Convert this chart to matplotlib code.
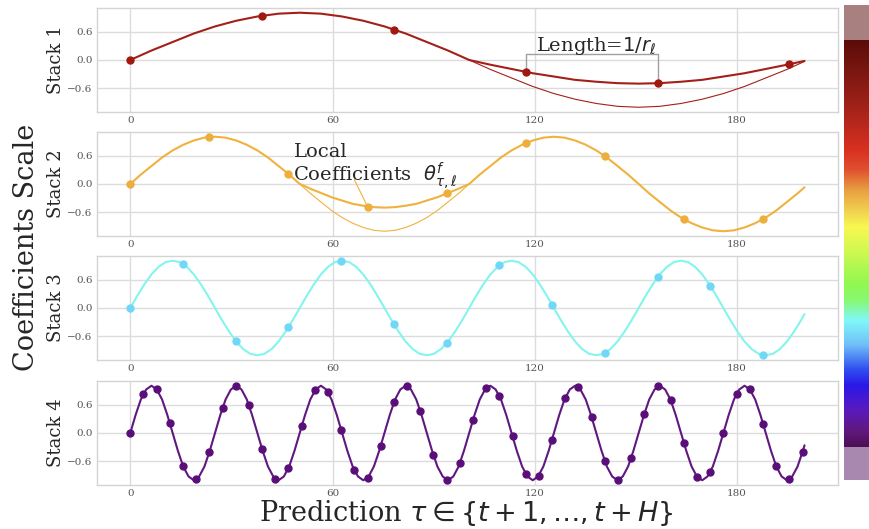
import numpy as np
import matplotlib
matplotlib.use('Agg')
import matplotlib.pyplot as plt
from matplotlib.colors import LinearSegmentedColormap
from matplotlib.patches import Rectangle

# curve read-offs at even spacing, last value is the reading at tau=200
stack_names = ['Stack 1', 'Stack 2', 'Stack 3', 'Stack 4']
line_steps = [2 * np.pi, np.pi, 2 * np.pi / 3, np.pi / 2]

s1_line = [0, .2, .38, .56, .71, .83, .92, .98, 1, .98, .92, .83, .71, .56, .38, .2,
           0, -.1, -.19, -.28, -.35, -.42, -.46, -.49, -.5, -.49, -.46, -.42, -.35, -.28, -.19, -.1,
           -.02]
s2_line = [0, .2, .38, .56, .71, .83, .92, .98, 1, .98, .92, .83, .71, .56, .38, .2,
           0, -.1, -.19, -.28, -.35, -.42, -.46, -.49, -.5, -.49, -.46, -.42, -.35, -.28, -.19, -.1,
           0, .2, .38, .56, .71, .83, .92, .98, 1, .98, .92, .83, .71, .56, .38, .2,
           0, -.2, -.38, -.56, -.71, -.83, -.92, -.98, -1, -.98, -.92, -.83, -.71, -.56, -.38, -.2,
           -.07]
s3_line = [0, .26, .5, .71, .87, .97, 1, .97, .87, .71, .5, .26,
           0, -.26, -.5, -.71, -.87, -.97, -1, -.97, -.87, -.71, -.5, -.26,
           0, .26, .5, .71, .87, .97, 1, .97, .87, .71, .5, .26,
           0, -.26, -.5, -.71, -.87, -.97, -1, -.97, -.87, -.71, -.5, -.26,
           0, .26, .5, .71, .87, .97, 1, .97, .87, .71, .5, .26,
           0, -.26, -.5, -.71, -.87, -.97, -1, -.97, -.87, -.71, -.5, -.26,
           0, .26, .5, .71, .87, .97, 1, .97, .87, .71, .5, .26,
           0, -.26, -.5, -.71, -.87, -.97, -1, -.97, -.87, -.71, -.5, -.26,
           -.13]
s4_line = [0, .38, .71, .92, 1, .92, .71, .38, 0, -.38, -.71, -.92, -1, -.92, -.71, -.38,
           0, .38, .71, .92, 1, .92, .71, .38, 0, -.38, -.71, -.92, -1, -.92, -.71, -.38,
           0, .38, .71, .92, 1, .92, .71, .38, 0, -.38, -.71, -.92, -1, -.92, -.71, -.38,
           0, .38, .71, .92, 1, .92, .71, .38, 0, -.38, -.71, -.92, -1, -.92, -.71, -.38,
           0, .38, .71, .92, 1, .92, .71, .38, 0, -.38, -.71, -.92, -1, -.92, -.71, -.38,
           0, .38, .71, .92, 1, .92, .71, .38, 0, -.38, -.71, -.92, -1, -.92, -.71, -.38,
           0, .38, .71, .92, 1, .92, .71, .38, 0, -.38, -.71, -.92, -1, -.92, -.71, -.38,
           0, .38, .71, .92, 1, .92, .71, .38, 0, -.38, -.71, -.92, -1, -.92, -.71, -.38,
           -.26]

# undamped curve where the thick one was shrunk
thin_start = 16
s1_thin = [0, -.2, -.38, -.56, -.71, -.83, -.92, -.98, -1, -.98, -.92, -.83, -.71, -.56, -.38, -.2,
           -.03]
s2_thin = [0, -.2, -.38, -.56, -.71, -.83, -.92, -.98, -1, -.98, -.92, -.83, -.71, -.56, -.38, -.2,
           0]

# coefficient dots, spaced 3.91 apart on stack 4
dot_step = 3.91
dot_stride = [10, 6, 4, 1]
s1_dots = [0, .94, .64, -.25, -.49, -.09]
s2_dots = [0, .99, .21, -.48, -.2, .87, .59, -.74, -.74]
s3_dots = [0, .93, -.7, -.41, 1, -.34, -.74, .9, .07, -.95, .65, .47, -.99]
s4_dots = [0, .83, .93, .21, -.7, -.98, -.41, .53, 1, .59, -.34, -.97, -.74,
           .14, .9, .87, .07, -.79, -.95, -.27, .65, .99, .47, -.47, -1, -.64,
           .28, .95, .79, -.07, -.87, -.9, -.14, .75, .97, .34, -.59, -1, -.53,
           .41, .99, .69, -.21, -.93, -.83, .01, .83, .93, .2, -.7, -.98, -.4]

line_colors = ['#a3201a', '#f0b23e', '#84f4ee', '#601880']
dot_colors = ['#a0180f', '#eeae3c', '#70d8f6', '#5a0f78']

cmap_stops = [0.0, 0.04, 0.09, 0.15, 0.19, 0.25, 0.31, 0.36, 0.40,
              0.48, 0.54, 0.58, 0.63, 0.68, 0.73, 0.85, 1.0]
cmap_colors = ['#4f0f55', '#601880', '#5a1ac0', '#2a18e8', '#3050f0', '#70c0f8',
               '#80f8f8', '#88f870', '#90f850', '#d0f850', '#f8f850', '#f0d050',
               '#e8a040', '#e05030', '#d83020', '#9a2018', '#5a0c08']

plt.style.use('seaborn-v0_8-whitegrid')
plt.rcParams['font.family'] = 'serif'
plt.rcParams['mathtext.fontset'] = 'dejavusans'

fig = plt.figure(figsize=(8.7, 5.29), dpi=100)

lines = [s1_line, s2_line, s3_line, s4_line]
thins = [s1_thin, s2_thin, None, None]
dots = [s1_dots, s2_dots, s3_dots, s4_dots]
bottoms = [0.7883, 0.5539, 0.3195, 0.0832]

axes = []
for i in range(4):
    ax = fig.add_axes([0.111, bottoms[i], 0.8525, 0.1966])
    step = line_steps[i]
    vals = lines[i]
    x = np.minimum(np.arange(len(vals)) * step, 200)
    ax.plot(x, vals, color=line_colors[i], lw=1.5, zorder=3)
    if thins[i] is not None:
        xt = np.minimum(np.arange(thin_start, thin_start + len(thins[i])) * step, 200)
        ax.plot(xt, thins[i], color=line_colors[i], lw=0.8, zorder=2)
    xd = np.arange(len(dots[i])) * dot_step * dot_stride[i]
    ax.plot(xd, dots[i], 'o', color=dot_colors[i], ms=5, zorder=4)

    ax.set_xticks([0, 60, 120, 180])
    ax.set_yticks([-0.6, 0, 0.6])
    ax.tick_params(labelsize=7.5, labelcolor='#555555', pad=3)
    ax.grid(color='#dcdcdc', lw=1)
    for sp in ax.spines.values():
        sp.set_color('#d4d4d4')
    ax.set_ylabel(stack_names[i], fontsize=13, color='#262626', labelpad=1.5)
    axes.append(ax)

# stack 1: bracket between two coefficients
ax1 = axes[0]
xa = 3 * dot_step * dot_stride[0]
xb = 4 * dot_step * dot_stride[0]
ax1.plot([xa, xa, xb, xb], [s1_dots[3], 0.13, 0.13, s1_dots[4]],
         color='#a0a0a0', lw=1, zorder=1)
ax1.text(120.2, 0.18, r'Length=$1/r_\ell$', fontsize=14, color='#262626')

# stack 2: local coefficients label
ax2 = axes[1]
ax2.text(48.4, 0.57, 'Local', fontsize=14, color='#262626', va='baseline')
ax2.text(48.4, 0.05, r'Coefficients $\ \theta^f_{\tau,\ell}$', fontsize=14,
         color='#262626', va='baseline')
xc = 3 * dot_step * dot_stride[1]
ax2.plot([66.4, xc], [0.1, s2_dots[3]], color=line_colors[1], lw=0.8, zorder=2)

fig.text(0.031, 0.532, 'Coefficients Scale', rotation=90, fontsize=19.5,
         ha='center', va='center', color='#262626')
fig.text(0.536, 0.03, r'Prediction $\tau \in \{t+1, \ldots, t+H\}$', fontsize=19.5,
         ha='center', va='center', color='#262626')

# colour scale on the right edge, with pale end caps
cmap = LinearSegmentedColormap.from_list('coef', list(zip(cmap_stops, cmap_colors)))
cax = fig.add_axes([844.5 / 870, 1 - 447 / 529, 0.06, 407 / 529])
cax.imshow(np.linspace(0, 1, 256)[:, None], aspect='auto', cmap=cmap,
           origin='lower', interpolation='bilinear')
cax.axis('off')
fig.add_artist(Rectangle((844.5 / 870, 1 - 40 / 529), 0.06, 35 / 529,
                         transform=fig.transFigure, color='#a88080', lw=0))
fig.add_artist(Rectangle((844.5 / 870, 1 - 480 / 529), 0.06, 33 / 529,
                         transform=fig.transFigure, color='#a888ae', lw=0))

fig.savefig('out.png', dpi=100)
